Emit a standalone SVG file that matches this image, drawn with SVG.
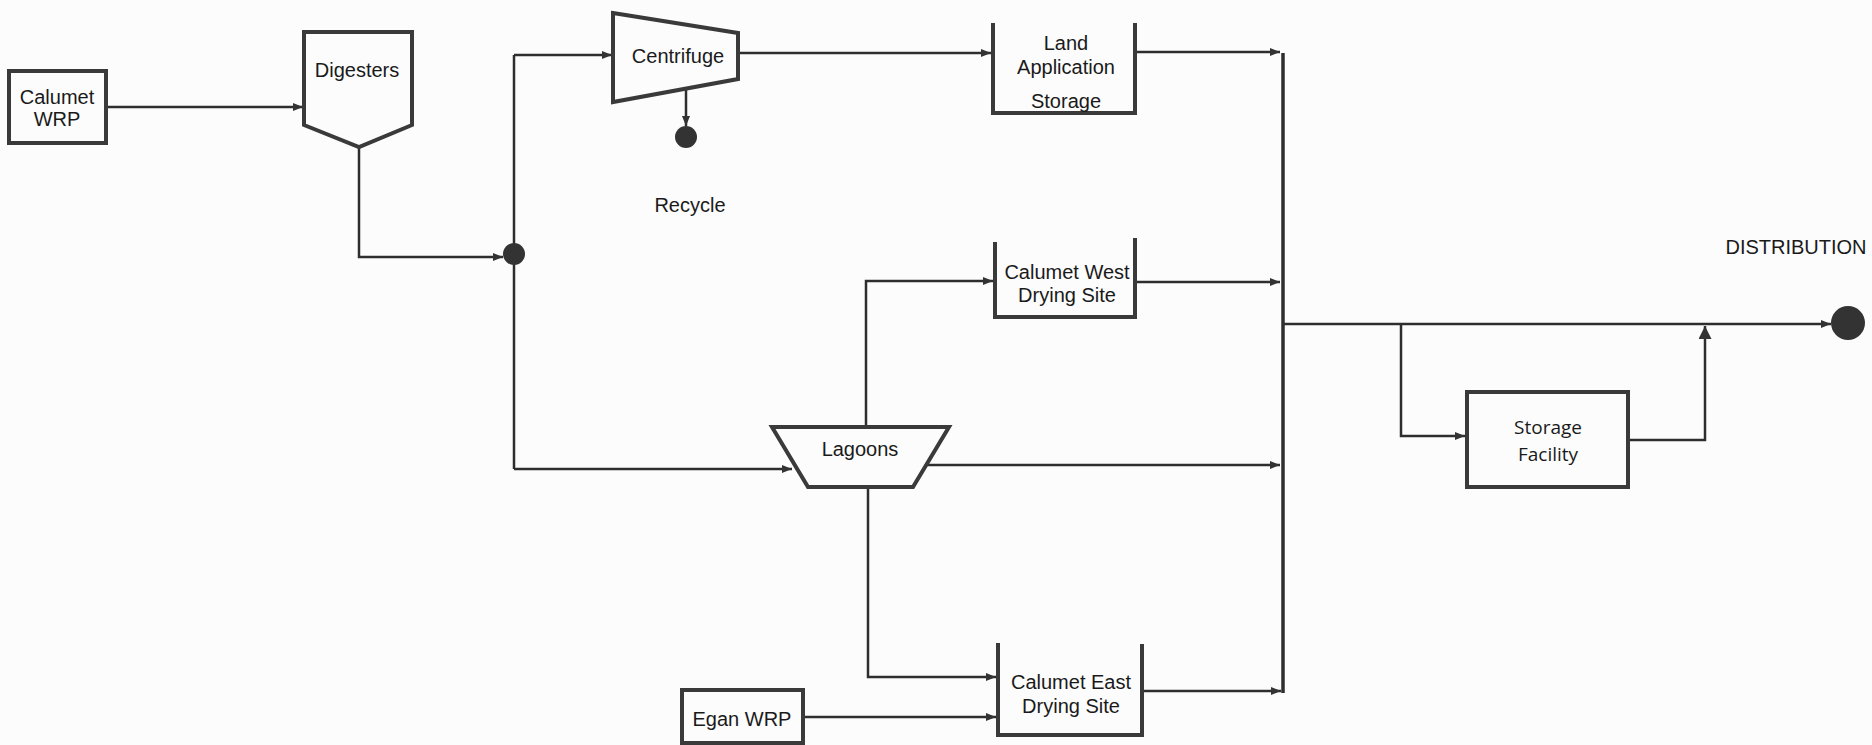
<svg xmlns="http://www.w3.org/2000/svg" width="1872" height="745" viewBox="0 0 1872 745">
<defs>
<style>
.node{fill:none;stroke:#3a3a3a;stroke-width:4;stroke-linejoin:miter}
.c{fill:none;stroke:#2e2e2e;stroke-width:2.5}
.t{font-family:"Liberation Sans",Arial,sans-serif;font-size:20px;fill:#1a1a1a;text-anchor:middle}
.t2{font-family:"Open Sans","Liberation Sans",sans-serif;font-size:19px;fill:#1a1a1a;text-anchor:middle}
.dot{fill:#333}
</style>
<marker id="a" viewBox="0 0 10 8" refX="10" refY="4" markerWidth="11" markerHeight="8" markerUnits="userSpaceOnUse" orient="auto"><path d="M0,0 L10,4 L0,8 z" fill="#333"/></marker>
<marker id="b" viewBox="0 0 12 12" refX="12" refY="6" markerWidth="13" markerHeight="13" markerUnits="userSpaceOnUse" orient="auto"><path d="M0,0 L12,6 L0,12 z" fill="#333"/></marker>
</defs>
<rect width="1872" height="745" fill="#fcfcfc"/>
<g id="connectors">
<path class="c" d="M106,107 H303" marker-end="url(#a)"/>
<path class="c" d="M359,147 V257 H503" marker-end="url(#a)"/>
<path class="c" d="M514,55 V469"/>
<path class="c" d="M514,55 H612" marker-end="url(#a)"/>
<path class="c" d="M514,469 H792" marker-end="url(#a)"/>
<path class="c" d="M738,53 H991" marker-end="url(#a)"/>
<path class="c" d="M686,88 V126" marker-end="url(#a)"/>
<path class="c" d="M1135,52 H1280" marker-end="url(#a)"/>
<path class="c" d="M866,427 V281 H993" marker-end="url(#a)"/>
<path class="c" d="M1137,282 H1280" marker-end="url(#a)"/>
<path class="c" d="M926,465 H1280" marker-end="url(#a)"/>
<path class="c" d="M868,487 V677 H996" marker-end="url(#a)"/>
<path class="c" d="M803,717 H996" marker-end="url(#a)"/>
<path class="c" d="M1142,691 H1281" marker-end="url(#a)"/>
<path class="c" d="M1283,53 V693" style="stroke-width:3.5"/>
<path class="c" d="M1283,324 H1831" marker-end="url(#a)"/>
<path class="c" d="M1401,324 V436 H1465" marker-end="url(#a)"/>
<path class="c" d="M1628,440 H1705 V326" marker-end="url(#b)"/>
</g>
<g id="calumet-wrp"><rect class="node" x="9" y="71" width="97" height="72"/><text class="t" x="57" y="104">Calumet</text><text class="t" x="57" y="126">WRP</text></g>
<g id="digesters"><polygon class="node" points="304,32 412,32 412,125 359,147 304,125"/><text class="t" x="357" y="77">Digesters</text></g>
<g id="junction"><circle class="dot" cx="514" cy="254" r="11"/></g>
<g id="centrifuge"><polygon class="node" points="613,13 738,33 738,79 613,102"/><text class="t" x="678" y="63">Centrifuge</text></g>
<g id="recycle"><circle class="dot" cx="686" cy="137" r="11"/><text class="t" x="690" y="212">Recycle</text></g>
<g id="land-application"><path class="node" d="M993,23 V113 H1135 V23"/><text class="t" x="1066" y="50">Land</text><text class="t" x="1066" y="74">Application</text><text class="t" x="1066" y="108">Storage</text></g>
<g id="calumet-west"><path class="node" d="M995,242 V317 H1135 V238"/><text class="t" x="1067" y="279">Calumet West</text><text class="t" x="1067" y="302">Drying Site</text></g>
<g id="lagoons"><polygon class="node" points="772,427 949,427 913,487 808,487"/><text class="t" x="860" y="456">Lagoons</text></g>
<g id="egan-wrp"><rect class="node" x="682" y="690" width="121" height="53"/><text class="t" x="742" y="726">Egan WRP</text></g>
<g id="calumet-east"><path class="node" d="M998,643 V735 H1142 V644"/><text class="t" x="1071" y="689">Calumet East</text><text class="t" x="1071" y="713">Drying Site</text></g>
<g id="storage-facility"><rect class="node" x="1467" y="392" width="161" height="95"/><text class="t2" x="1548" y="434">Storage</text><text class="t2" x="1548" y="461">Facility</text></g>
<g id="distribution"><circle class="dot" cx="1848" cy="323" r="17"/><text class="t" x="1796" y="254">DISTRIBUTION</text></g>
</svg>
